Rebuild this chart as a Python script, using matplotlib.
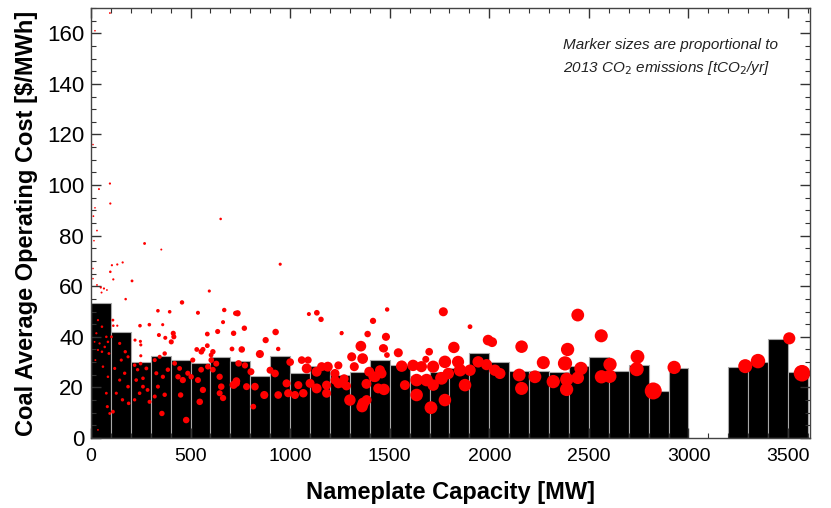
import matplotlib
matplotlib.use('Agg')
import matplotlib.pyplot as plt
from matplotlib.ticker import MultipleLocator
import numpy as np

plt.rcParams['font.family'] = ['Liberation Sans', 'DejaVu Sans']

# average operating cost per 100 MW capacity bin
bin_left = [0, 100, 200, 300, 400, 500, 600, 700, 800, 900,
            1000, 1100, 1200, 1300, 1400, 1500, 1600, 1700, 1800, 1900,
            2000, 2100, 2200, 2300, 2400, 2500, 2600, 2700, 2800, 2900,
            3000, 3100, 3200, 3300, 3400, 3500]
bin_cost = [53.4, 41.9, 30.0, 32.4, 30.8, 29.5, 32.1, 30.4, 24.6, 32.3,
            25.7, 28.3, 24.9, 26.2, 30.8, 28.9, 24.4, 26.0, 27.5, 33.5,
            30.2, 26.6, 26.6, 26.2, 28.5, 32.0, 26.6, 28.9, 18.6, 27.5,
            0.0, 0.0, 28.2, 30.2, 39.1, 26.0]

# individual plants: capacity [MW], cost [$/MWh], 2013 emissions [MtCO2/yr]
plants = [
    (95, 168, 0.1), (20, 161, 0.08), (10, 116, 0.08), (95, 100.6, 0.15), (40, 98.4, 0.12),
    (97, 92.7, 0.15), (20, 91, 0.08), (12, 87.7, 0.1), (30, 82, 0.1), (15, 78, 0.08),
    (651, 86.6, 0.2), (269, 76.9, 0.25), (353, 74.5, 0.12), (950, 68.7, 0.3), (105, 68.3, 0.15),
    (132, 68.6, 0.15), (159, 69.4, 0.15), (97, 65.7, 0.2), (112, 62.7, 0.15), (206, 62.1, 0.25),
    (10, 67, 0.08), (10, 63, 0.08), (49, 59.5, 0.15), (65, 59.1, 0.15), (53, 57.5, 0.12),
    (30, 60.5, 0.1), (80, 58.5, 0.1), (174, 54.9, 0.2), (594, 58.1, 0.3), (457, 53.6, 0.6),
    (336, 50.3, 0.4), (395, 49.9, 0.4), (537, 49.5, 0.5), (669, 50.6, 0.6), (726, 49.3, 0.8),
    (663, 45.8, 0.5), (246, 44.4, 0.4), (293, 44.8, 0.4), (360, 44.8, 0.3), (132, 44.4, 0.15),
    (341, 40.7, 0.5), (413, 41.4, 0.8), (416, 40, 0.8), (373, 39.6, 0.5), (403, 38, 0.8),
    (584, 41.1, 0.7), (636, 42.1, 0.8), (716, 41.4, 0.9), (221, 38.7, 0.3), (248, 38.2, 0.3),
    (250, 36.8, 0.3), (531, 35, 0.7), (554, 34.1, 1.0), (562, 35, 0.8), (584, 36.5, 0.7),
    (612, 34.1, 0.9), (603, 32.8, 0.7), (708, 35.2, 0.7), (250, 32.5, 0.3), (186, 32.1, 0.3),
    # 0-100 MW
    (35, 46.6, 0.15), (55, 44, 0.2), (27, 41.4, 0.15), (77, 40, 0.2), (18, 38, 0.1),
    (43, 37.4, 0.15), (85, 38, 0.2), (35, 34.8, 0.15), (55, 34.1, 0.2), (69, 36, 0.2),
    (90, 33.4, 0.25), (22, 30.8, 0.12), (60, 28.2, 0.2), (85, 24.2, 0.2), (77, 17.7, 0.25),
    (82, 12.4, 0.3), (94, 9.7, 0.25), (35, 3.2, 0.1),
    # 100-200 MW
    (110, 46.6, 0.25), (112, 44.4, 0.2), (103, 40, 0.25), (144, 37.4, 0.3), (172, 34.1, 0.35),
    (152, 30.8, 0.3), (119, 27.5, 0.3), (169, 25.6, 0.35), (144, 22.9, 0.3), (186, 20.3, 0.4),
    (127, 17.7, 0.3), (158, 15.1, 0.35), (189, 13.7, 0.4), (110, 10.4, 0.45),
    # 200-800 MW
    (219, 28.8, 0.4), (249, 29.4, 0.4), (234, 27, 0.35), (278, 27.5, 0.45), (227, 22.9, 0.4),
    (261, 20.3, 0.45), (244, 17.7, 0.4), (284, 19, 0.45), (219, 15.1, 0.35), (294, 14.3, 0.5),
    (261, 23.6, 0.4), (320, 30.8, 0.5), (345, 32.1, 0.5), (370, 33.4, 0.6), (328, 25.6, 0.5),
    (361, 24.2, 0.55), (386, 27, 0.6), (336, 20.3, 0.5), (370, 17.1, 0.6), (320, 16.4, 0.5),
    (356, 9.7, 0.9), (420, 29.5, 0.7), (445, 27.5, 0.7), (437, 24.2, 0.9), (461, 22.9, 1.2),
    (486, 25.6, 0.8), (450, 17, 0.9), (478, 7.1, 1.3), (511, 30.8, 0.8), (537, 22.9, 1.1),
    (562, 19, 1.2), (503, 24.2, 0.9), (553, 27, 1.0), (587, 28.2, 1.0), (546, 14.3, 1.3),
    (604, 30.8, 1.0), (629, 29.4, 1.1), (612, 27, 1.0), (646, 24.2, 1.2), (654, 20.3, 1.3),
    (646, 17.7, 1.1), (663, 15.8, 1.2), (716, 21, 2.0), (730, 22.5, 1.8),
    # 700-1500 MW
    (736, 49.3, 1.2), (1094, 49, 0.5), (1134, 49.5, 1.0), (1155, 46.9, 0.9), (770, 43.4, 0.9),
    (927, 41.9, 1.3), (1258, 41.4, 0.5), (1416, 46.3, 1.2), (1389, 41.1, 1.3), (877, 38.7, 1.2),
    (757, 35, 1.3), (940, 35.2, 0.6), (848, 33.2, 2.0), (1355, 36.3, 3.5), (1466, 35.5, 2.0),
    (1058, 30.8, 1.8), (1090, 30.8, 1.6), (1158, 28.2, 2.5), (1189, 28.2, 3.0), (1242, 28.7, 2.0),
    (1309, 32.1, 2.5), (1364, 31.4, 3.5), (741, 29.5, 1.3), (773, 28.7, 1.2), (803, 26.2, 1.5),
    (899, 26.8, 1.5), (1000, 30, 1.8), (1083, 27.5, 3.0), (1133, 26.2, 3.0), (1225, 25.5, 2.5),
    (1271, 23.4, 2.5), (1322, 28.2, 2.5), (1397, 26.2, 3.0), (1426, 24.2, 3.5), (1459, 25.5, 3.0),
    (731, 21.6, 1.4), (781, 20.3, 1.5), (823, 20.3, 1.8), (924, 25.5, 1.8), (982, 21.6, 2.0),
    (1041, 20.9, 2.0), (1100, 21.6, 2.5), (1133, 19.6, 3.0), (1183, 20.9, 2.5), (1242, 21.6, 3.0),
    (1283, 20.6, 2.5), (1383, 21.4, 3.0), (1442, 19.6, 3.0), (870, 17, 2.0), (940, 17, 1.8),
    (990, 17.7, 2.0), (1024, 17, 2.0), (1066, 17.7, 2.2), (1183, 17.7, 2.5), (1300, 15, 4.0),
    (1367, 13.7, 4.0), (1384, 15, 3.0), (815, 12.4, 1.0), (1361, 12.4, 4.0), (1418, 24.2, 3.0),
    (1259, 41.6, 0.4), (1225, 22.9, 2.5), (1266, 21.6, 2.5),
    # 1450-2200 MW
    (1487, 50.8, 0.6), (1769, 49.9, 2.5), (1903, 44, 0.7), (1481, 40, 2.0), (1471, 35.4, 2.0),
    (1486, 32.8, 1.0), (1543, 33.7, 2.5), (1698, 34.1, 1.8), (1681, 31.1, 1.5), (1822, 35.8, 4.0),
    (1994, 38.7, 3.5), (2014, 37.9, 3.0), (2162, 36.1, 4.8), (1560, 28.4, 4.0), (1617, 28.7, 4.0),
    (1659, 28.2, 3.8), (1718, 28.2, 4.5), (1777, 30.1, 4.8), (1843, 30.1, 4.5), (1944, 30.1, 4.0),
    (1986, 29, 3.8), (2028, 26.8, 4.0), (2053, 25.5, 3.8), (1451, 26.8, 3.0), (1635, 22.9, 4.8),
    (1685, 22.9, 4.8), (1760, 23.6, 5.0), (1794, 25.5, 4.0), (1853, 26.8, 4.8), (1903, 26.8, 4.0),
    (1576, 20.9, 3.0), (1471, 19.2, 4.0), (1718, 20.9, 4.0), (1878, 20.9, 4.8), (1635, 17, 4.8),
    (1777, 15, 4.8), (1707, 12, 5.0), (2150, 24.9, 5.0), (2162, 19.6, 5.2),
    # 2200-3600 MW
    (2444, 48.6, 5.0), (2562, 40.4, 5.2), (2393, 35, 5.4), (2271, 29.8, 5.2), (2380, 29.5, 6.2),
    (2460, 27.5, 5.4), (2606, 29.1, 5.4), (2744, 32.1, 5.8), (2740, 27.2, 6.0), (2928, 27.9, 5.4),
    (2229, 24.2, 5.0), (2321, 22.3, 5.4), (2389, 23.2, 5.4), (2444, 23.8, 4.8), (2563, 24.2, 5.4),
    (2605, 24.4, 5.4), (2388, 19.2, 5.4), (2823, 18.6, 8.8),
    (3285, 28.4, 6.0), (3349, 30.4, 6.4), (3506, 39.4, 4.5), (3570, 25.6, 8.4),
]

cap = np.array([p[0] for p in plants])
cost = np.array([p[1] for p in plants])
co2 = np.array([p[2] for p in plants])

fig = plt.figure(figsize=(8.31, 5.08), dpi=100)
ax = fig.add_axes([0.1095, 0.1378, 0.8652, 0.8465])

bl = np.array(bin_left)
bc = np.array(bin_cost)
keep = bc > 0
ax.bar(bl[keep], bc[keep], width=100, align='edge', color='black',
       edgecolor='#a8a8a8', linewidth=0.8, zorder=1)

ax.scatter(cap, cost, s=co2 * 17, c='#ff0000', edgecolors='none', zorder=2)

ax.set_xlim(0, 3610)
ax.set_ylim(0, 170)
ax.xaxis.set_major_locator(MultipleLocator(500))
ax.xaxis.set_minor_locator(MultipleLocator(100))
ax.yaxis.set_major_locator(MultipleLocator(20))
ax.yaxis.set_minor_locator(MultipleLocator(5))
ax.tick_params(which='both', direction='in', top=True, right=True, color='#333333')
ax.tick_params(which='major', length=7, width=1.0)
ax.tick_params(which='minor', length=3.5, width=0.8)
ax.tick_params(axis='x', which='major', labelsize=14, pad=7)
ax.tick_params(axis='y', which='major', labelsize=16, pad=5)
for sp in ax.spines.values():
    sp.set_color('#444444')
    sp.set_linewidth(1.0)

ax.set_xlabel('Nameplate Capacity [MW]', fontsize=17, fontweight='bold', labelpad=12)
ax.set_ylabel('Coal Average Operating Cost [$/MWh]', fontsize=17, fontweight='bold', labelpad=6)

ax.text(0.656, 0.93, 'Marker sizes are proportional to\n2013 CO$_2$ emissions [tCO$_2$/yr]',
        transform=ax.transAxes, ha='left', va='top', fontsize=11, style='italic',
        color='#222222', linespacing=1.5)

fig.savefig('out.png', dpi=100)
